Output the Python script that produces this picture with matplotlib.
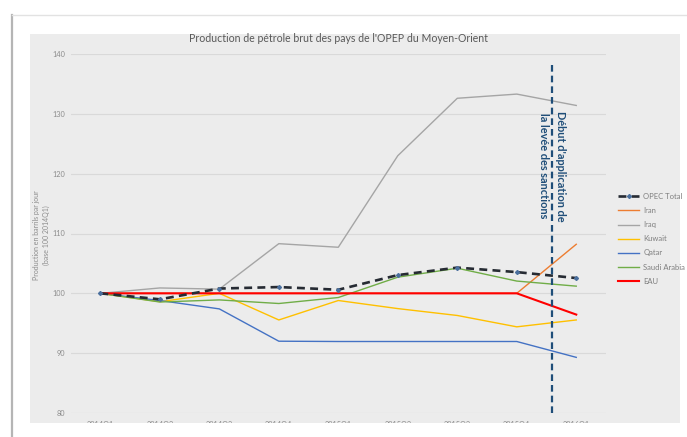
import matplotlib
matplotlib.use('Agg')
import matplotlib.pyplot as plt
from matplotlib.patches import Rectangle
from matplotlib.lines import Line2D

quarters = ['2014Q1', '2014Q2', '2014Q3', '2014Q4', '2015Q1', '2015Q2', '2015Q3', '2015Q4', '2016Q1']

opec_total = [100, 99.0, 100.8, 101.05, 100.6, 103.05, 104.3, 103.55, 102.55]
iran = [100, 100, 100, 100, 100, 100, 100, 100, 108.2]
iraq = [100, 100.9, 100.7, 108.3, 107.7, 123.0, 132.6, 133.3, 131.4]
kuwait = [100, 98.6, 100.0, 95.55, 98.8, 97.45, 96.3, 94.4, 95.55]
qatar = [100, 98.8, 97.4, 92.0, 91.95, 91.95, 91.95, 91.95, 89.3]
saudi = [100, 98.55, 98.9, 98.3, 99.3, 102.7, 104.2, 102.05, 101.2]
eau = [100, 100, 100, 100, 100, 100, 100, 100, 96.45]

sanction_pos = 7.59  # entre 2015Q4 et 2016Q1

W, H = 687, 437
plt.rcParams['font.family'] = ['Lato', 'DejaVu Sans']

fig = plt.figure(figsize=(W / 100, H / 100), dpi=100)
fig.patch.set_facecolor('white')

# cadre de la page + zone grise du graphique
fig.add_artist(Line2D([12 / W, 12 / W], [0, 1 - 15 / H], color='#b5b5b5', lw=1.6))
fig.add_artist(Line2D([12 / W, 1], [1 - 15 / H, 1 - 15 / H], color='#e2e2e2', lw=1.0))
fig.add_artist(Rectangle((30.5 / W, 14 / H), (680 - 30.5) / W, 389 / H,
                         facecolor='#ececec', edgecolor='none', zorder=-5))

ax = fig.add_axes([70.6 / W, 24 / H, (606 - 70.6) / W, 359 / H])
ax.set_facecolor('none')
x = list(range(len(quarters)))

ax.plot(x, iran, color='#ed7d31', lw=1.0, label='Iran', zorder=3)
ax.plot(x, iraq, color='#a5a5a5', lw=1.0, label='Iraq', zorder=3)
ax.plot(x, kuwait, color='#ffc000', lw=1.0, label='Kuwait', zorder=3)
ax.plot(x, qatar, color='#4472c4', lw=1.0, label='Qatar', zorder=3)
ax.plot(x, saudi, color='#70ad47', lw=1.0, label='Saudi Arabia', zorder=3)
ax.plot(x, eau, color='#ff0000', lw=1.5, label='EAU', zorder=4)
ax.plot(x, opec_total, color='#262b33', lw=1.9, ls=(0, (3, 2)), marker='D', ms=2.0,
        mfc='#4a6f9e', mec='#4a6f9e', label='OPEC Total', zorder=5)

# ligne verticale : levée des sanctions
ax.plot([sanction_pos, sanction_pos], [80, 138.7], color='#1f4e79', lw=1.6,
        ls=(0, (3, 1.8)), zorder=6)
ax.text(sanction_pos, 121.3, "Début d'application de\nla levée des sanctions",
        rotation=-90, ha='center', va='center', fontsize=7.9, color='#1f4e79',
        fontweight='bold', linespacing=1.6, zorder=7)

ax.set_xlim(-0.5, 8.5)
ax.set_ylim(80, 140)
ax.set_yticks([80, 90, 100, 110, 120, 130, 140])
ax.set_xticks(x)
ax.set_xticklabels(quarters)
ax.grid(axis='y', color='#d9d9d9', lw=0.8)
ax.set_axisbelow(True)
for s in ax.spines.values():
    s.set_visible(False)
ax.tick_params(axis='both', length=0, labelsize=5.3, labelcolor='#8c8c8c')
ax.tick_params(axis='x', pad=6)
ax.tick_params(axis='y', pad=4)

ax.set_title("Production de pétrole brut des pays de l'OPEP du Moyen-Orient",
             fontsize=7.6, color='#595959', pad=9)
fig.text(41.5 / W, 1 - 235 / H, 'Production en barrils par jour\n(base 100 2014Q1)',
         rotation=90, ha='center', va='center', fontsize=5.0, color='#8c8c8c',
         linespacing=1.6)

# légende à droite, ordre Excel
handles, labels = ax.get_legend_handles_labels()
order = [6, 0, 1, 2, 3, 4, 5]
ax.legend([handles[i] for i in order], [labels[i] for i in order],
          loc='upper left', bbox_to_anchor=(618 / W, 1 - 193 / H),
          bbox_transform=fig.transFigure, frameon=False, fontsize=5.5,
          labelcolor='#7f7f7f', handlelength=2.8, handletextpad=0.5,
          labelspacing=0.93, borderpad=0, borderaxespad=0)

# les étiquettes de l'axe x sont coupées par le bas de la zone grise
fig.add_artist(Rectangle((30 / W, 0), 1, 14 / H, facecolor='white',
                         edgecolor='none', zorder=10))

fig.savefig('out.png', dpi=100)
